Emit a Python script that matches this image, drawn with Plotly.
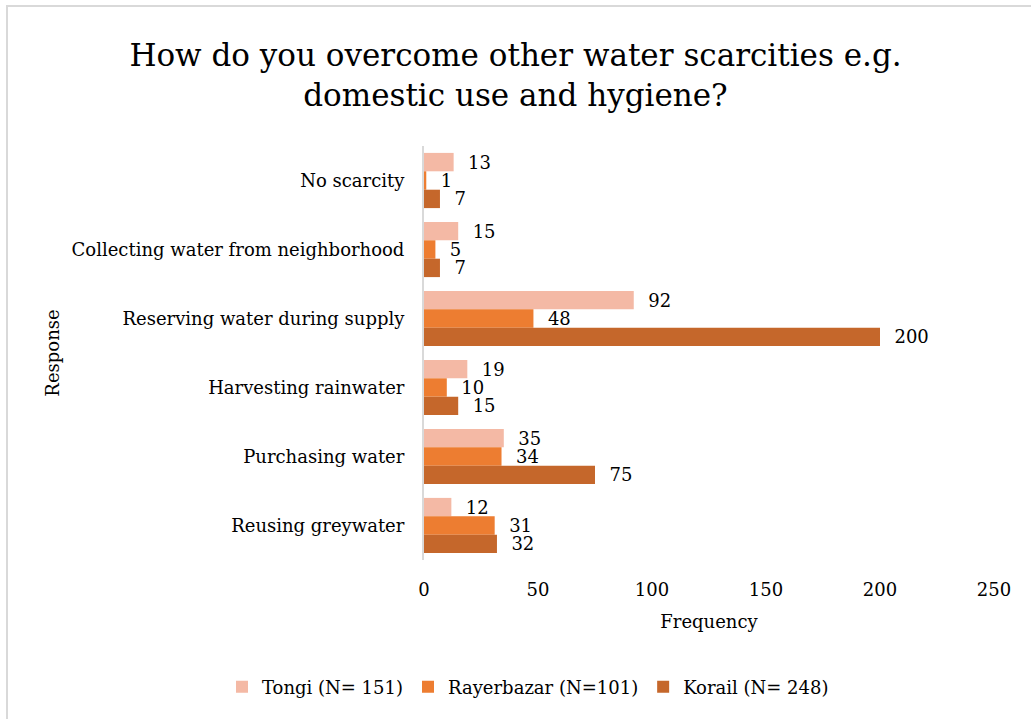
import plotly.graph_objects as go

# Survey responses, listed top to bottom
responses = [
    "No scarcity",
    "Collecting water from neighborhood",
    "Reserving water during supply",
    "Harvesting rainwater",
    "Purchasing water",
    "Reusing greywater",
]
tongi = [13, 15, 92, 19, 35, 12]
rayerbazar = [1, 5, 48, 10, 34, 31]
korail = [7, 7, 200, 15, 75, 32]

series_names = ["Tongi (N= 151)", "Rayerbazar (N=101)", "Korail (N= 248)"]
series_values = [tongi, rayerbazar, korail]
series_colors = ["#F4B9A5", "#ED7D31", "#C5672B"]

FONT = "DejaVu Serif"

fig = go.Figure()
for name, vals, color in zip(series_names, series_values, series_colors):
    fig.add_trace(go.Bar(
        y=responses,
        x=vals,
        name=name,
        orientation="h",
        marker=dict(color=color, line=dict(width=0)),
        text=vals,
        texttemplate="\u00a0\u00a0%{x}",
        textposition="outside",
        constraintext="none",
        textfont=dict(family=FONT, size=18, color="#000000"),
        cliponaxis=False,
    ))

L, R, T, B = 424, 37, 146, 159
W, H = 1031, 719
pw, ph = W - L - R, H - T - B

# Light grey frame around the chart area
fig.add_shape(
    type="rect", xref="paper", yref="paper",
    x0=(7 - L) / pw, x1=(W + 4 - L) / pw,
    y0=-(H + 4 - (H - B)) / ph, y1=1 + (T - 6) / ph,
    line=dict(color="#D9D9D9", width=2), fillcolor="rgba(0,0,0,0)",
    layer="below",
)

fig.update_layout(
    width=W, height=H,
    margin=dict(l=L, r=R, t=T, b=B),
    paper_bgcolor="white", plot_bgcolor="white",
    barmode="group", bargap=0.2, bargroupgap=0,
    font=dict(family=FONT, color="#000000"),
    title=dict(
        text="How do you overcome other water scarcities e.g.<br>domestic use and hygiene?",
        x=0.5, xref="container", xanchor="center",
        y=1 - 66 / H, yanchor="middle",
        font=dict(family=FONT, size=31, color="#000000"),
    ),
    xaxis=dict(
        range=[0, 250], dtick=50, showgrid=False, zeroline=False,
        showline=False, ticks="", ticklen=0, ticklabelstandoff=17,
        tickfont=dict(family=FONT, size=18),
        title=dict(text="Frequency", font=dict(family=FONT, size=18), standoff=16),
    ),
    yaxis=dict(
        autorange="reversed", showgrid=False, zeroline=False,
        showline=True, linecolor="#D9D9D9", linewidth=2,
        ticks="", ticklabelstandoff=14,
        tickfont=dict(family=FONT, size=18),
        title=dict(text="Response", font=dict(family=FONT, size=18), standoff=7),
    ),
    legend=dict(
        orientation="h",
        x=(222 - L) / pw, xref="paper", xanchor="left",
        y=-(687 - (H - B)) / ph, yref="paper", yanchor="middle",
        font=dict(family=FONT, size=18), traceorder="normal",
        itemwidth=30,
    ),
    showlegend=True,
)

fig.write_html("out.html")
